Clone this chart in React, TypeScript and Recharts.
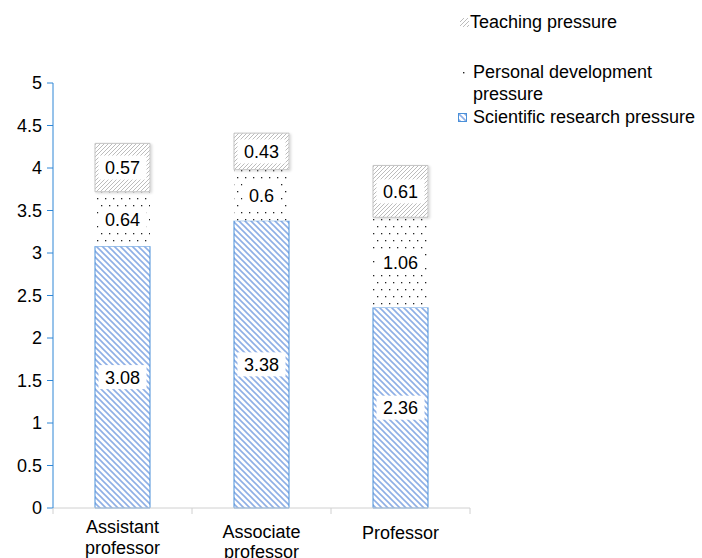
import React from "react";
import { BarChart, Bar, XAxis, YAxis, LabelList } from "recharts";

const categories = ["Assistant professor", "Associate professor", "Professor"];
const categoryLines = [["Assistant", "professor"], ["Associate", "professor"], ["Professor"]];
const scientific = [3.08, 3.38, 2.36];
const personal = [0.64, 0.6, 1.06];
const teaching = [0.57, 0.43, 0.61];
const yTicks = [0, 0.5, 1, 1.5, 2, 2.5, 3, 3.5, 4, 4.5, 5];
const legendLabels = ["Teaching pressure", "Personal development", "pressure", "Scientific research pressure"];

const data = categories.map((c, i) => ({
  name: c,
  lines: categoryLines[i],
  scientific: scientific[i],
  personal: personal[i],
  teaching: teaching[i],
}));

const FONT = "'Liberation Sans', Arial, sans-serif";
const FS = 18;

const Patterns = () => (
  <svg width={0} height={0} style={{ position: "absolute" }}>
    <defs>
      <pattern id="blueHatch" width="6" height="6" patternUnits="userSpaceOnUse">
        <rect width="6" height="6" fill="#ffffff" />
        <path d="M-1,-1 L7,7 M-4,2 L2,8 M4,-2 L8,2" stroke="#8EAFE6" strokeWidth="1.6" />
      </pattern>
      <pattern id="dots" width="8" height="14" patternUnits="userSpaceOnUse">
        <rect width="8" height="14" fill="#ffffff" />
        <rect x="1" y="2" width="1.3" height="1.3" fill="#222" />
        <rect x="5" y="9" width="1.3" height="1.3" fill="#222" />
      </pattern>
      <pattern id="grayHatch" width="4" height="4" patternUnits="userSpaceOnUse">
        <rect width="4" height="4" fill="#ffffff" />
        <path d="M-1,5 L5,-1 M-1,1 L1,-1 M3,5 L5,3" stroke="#B4B4B4" strokeWidth="0.9" />
      </pattern>
      <filter id="shadow" x="-10%" y="-10%" width="130%" height="130%">
        <feDropShadow dx="1.5" dy="1" stdDeviation="1" floodColor="#000" floodOpacity="0.15" />
      </filter>
    </defs>
  </svg>
);

const SegLabel = (props: any) => {
  const { x, y, width, height, value } = props;
  const cx = x + width / 2;
  const cy = y + height / 2;
  const txt = String(value);
  const w = txt.length * 10 + 8;
  return (
    <g>
      <rect x={cx - w / 2} y={cy - 12} width={w} height={24} fill="#ffffff" />
      <text x={cx} y={cy} dy={6.5} textAnchor="middle" fontSize={FS} fontFamily={FONT} fill="#000">
        {txt}
      </text>
    </g>
  );
};

const XTick = (props: any) => {
  const { x, y, payload, index } = props;
  const d = data[index] || data.find((e) => e.name === payload.value);
  const lines = d ? d.lines : [payload.value];
  const band = 139;
  const single = lines.length === 1;
  const offsets = index === 0 ? [18, 39] : single ? [24] : [23, 43];
  return (
    <g>
      <line x1={x - band / 2} y1={y - 8} x2={x - band / 2} y2={y - 2} stroke="#D0D0D0" />
      {index === 2 && <line x1={x + band / 2} y1={y - 8} x2={x + band / 2} y2={y - 2} stroke="#D0D0D0" />}
      {lines.map((l: string, i: number) => (
        <text key={i} x={x} y={y - 8 + offsets[i]} dy={6.5} textAnchor="middle" fontSize={FS} fontFamily={FONT} fill="#000">
          {l}
        </text>
      ))}
    </g>
  );
};

const LegendBox = () => {
  const t = (cy: number, left: number, s: string) => (
    <div style={{ position: "absolute", left, top: cy - 11, whiteSpace: "nowrap", lineHeight: "22px" }}>{s}</div>
  );
  return (
    <div style={{ position: "absolute", left: 450, top: 0, width: 252, height: 130, fontFamily: FONT, fontSize: FS, color: "#000" }}>
      <svg width={9} height={9} style={{ position: "absolute", left: 10, top: 18 }}>
        <rect width="9" height="9" fill="url(#grayHatch)" />
      </svg>
      {t(22, 20, legendLabels[0])}
      <svg width={8} height={8} style={{ position: "absolute", left: 10, top: 69 }}>
        <rect x="3" y="3" width="1.4" height="1.4" fill="#222" />
      </svg>
      {t(72, 23, legendLabels[1])}
      {t(94, 23, legendLabels[2])}
      <svg width={9} height={9} style={{ position: "absolute", left: 8, top: 113 }}>
        <rect x="0.5" y="0.5" width="8" height="8" fill="url(#blueHatch)" stroke="#4A90D9" />
      </svg>
      {t(117, 23, legendLabels[3])}
    </div>
  );
};

export default function App() {
  return (
    <div style={{ position: "absolute", left: 0, top: 0, width: 702, height: 558, background: "#fff" }}>
      <Patterns />
      <BarChart
        width={702}
        height={558}
        data={data}
        margin={{ top: 83, right: 232, bottom: 0, left: 0 }}
        barSize={55}
      >
        <XAxis
          dataKey="name"
          height={50}
          axisLine={{ stroke: "#D0D0D0" }}
          tickLine={false}
          tick={<XTick />}
          interval={0}
        />
        <YAxis
          domain={[0, 5]}
          ticks={yTicks}
          width={53}
          axisLine={{ stroke: "#2E86D6" }}
          tickLine={{ stroke: "#2E86D6" }}
          tickSize={6}
          tickMargin={5}
          tick={{ fontSize: FS, fontFamily: FONT, fill: "#000" }}
          interval={0}
        />
        <Bar dataKey="scientific" stackId="a" fill="url(#blueHatch)" stroke="#4A90D9" strokeWidth={1} isAnimationActive={false}>
          <LabelList dataKey="scientific" content={<SegLabel />} />
        </Bar>
        <Bar dataKey="personal" stackId="a" fill="url(#dots)" isAnimationActive={false}>
          <LabelList dataKey="personal" content={<SegLabel />} />
        </Bar>
        <Bar dataKey="teaching" stackId="a" fill="url(#grayHatch)" stroke="#C4C4C4" strokeWidth={1} filter="url(#shadow)" isAnimationActive={false}>
          <LabelList dataKey="teaching" content={<SegLabel />} />
        </Bar>
      </BarChart>
      <LegendBox />
    </div>
  );
}
